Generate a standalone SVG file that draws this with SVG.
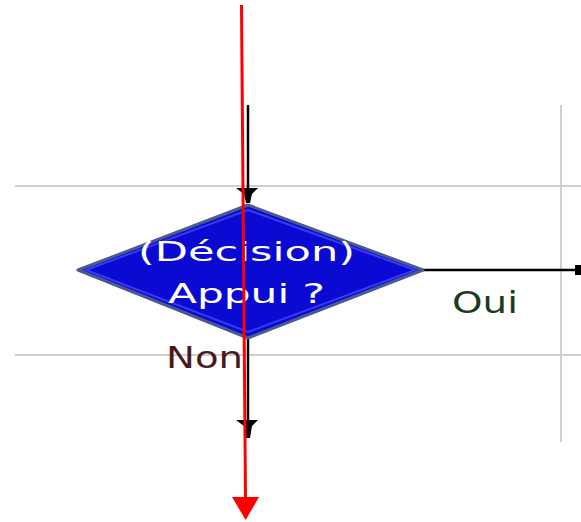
<svg xmlns="http://www.w3.org/2000/svg" width="581" height="522" viewBox="0 0 581 522">
<style>
.grid{stroke:#d0d0d0;stroke-width:2;fill:none}
.conn{stroke:#000;stroke-width:2.5;fill:none}
.lbl{font-family:"DejaVu Sans",sans-serif;font-size:31px}
.dtxt{font-family:"DejaVu Sans",sans-serif;font-size:26px;fill:#fff}
</style>
<rect width="581" height="522" fill="#fff"/>
<g id="grid">
<line class="grid" x1="15" y1="186" x2="581" y2="186"/>
<line class="grid" x1="15" y1="355" x2="581" y2="355"/>
<line class="grid" x1="561" y1="105" x2="561" y2="442"/>
</g>
<g id="connectors">
<line class="conn" x1="248" y1="105" x2="248" y2="195"/>
<polygon points="236,188 258,188 252,194 250,203 246,203 244,194" fill="#000"/>
<line class="conn" x1="248" y1="338" x2="248" y2="428"/>
<polygon points="236,420 258,420 252,426 250,438 246,438 244,426" fill="#000"/>
<line class="conn" x1="423" y1="270" x2="578" y2="270"/>
<rect x="575" y="265" width="6" height="10" fill="#000"/>
</g>
<g id="decision">
<polygon points="78,270 248,205 423,270 248,338" fill="#0a0ad2" stroke="#4a5a90" stroke-width="3" stroke-linejoin="round"/>
<polygon points="86,270 248,210 415,270 248,332" fill="none" stroke="#3a3af0" stroke-width="2"/>
<text class="dtxt" x="138" y="261" textLength="217" lengthAdjust="spacingAndGlyphs">(Décision)</text>
<text class="dtxt" x="168" y="303" textLength="157" lengthAdjust="spacingAndGlyphs">Appui ?</text>
</g>
<g id="labels">
<text class="lbl" x="452" y="313" fill="#1e3a1e" textLength="66" lengthAdjust="spacingAndGlyphs">Oui</text>
<text class="lbl" x="166" y="368" fill="#4a1a1a" textLength="77" lengthAdjust="spacingAndGlyphs">Non</text>
</g>
<g id="red-arrow">
<line x1="241.5" y1="5" x2="245.5" y2="498" stroke="#ff0000" stroke-width="3"/>
<polygon points="232,497 259,497 245.7,520" fill="#ff0000"/>
</g>
</svg>
